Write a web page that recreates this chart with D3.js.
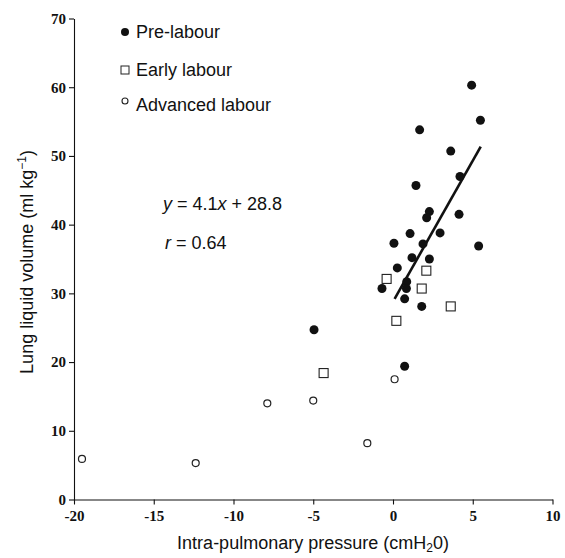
<!DOCTYPE html>
<html>
<head>
<meta charset="utf-8">
<script src="https://cdn.jsdelivr.net/npm/d3@7"></script>
<style>
  body { margin: 0; background: #fff; }
  .tick text { font-family: "Liberation Serif", "Times New Roman", serif; font-weight: bold; font-size: 15px; fill: #111; }
  .lbl { font-family: "Liberation Sans", Arial, sans-serif; fill: #111; }
</style>
</head>
<body>
<div id="chart"></div>
<script>
// Pre-labour (filled circles)
var preX = [4.93, 5.48, 1.67, 3.62, 4.2, 1.44, 2.28, 2.11, 4.14, 1.07, 2.95, 0.06,
  1.88, 5.37, 1.19, 2.28, 0.27, 0.86, -0.69, 0.84, 0.73, 1.8, 0.73, -4.95];
var preY = [60.3, 55.2, 53.8, 50.7, 47.0, 45.7, 41.9, 41.0, 41.5, 38.7, 38.8, 37.3,
  37.2, 36.9, 35.2, 35.0, 33.7, 31.7, 30.7, 30.7, 29.2, 28.1, 19.4, 24.7];
// Early labour (open squares)
var earlyX = [-0.4, 2.09, 1.8, 3.62, 0.21, -4.35];
var earlyY = [32.1, 33.3, 30.7, 28.1, 26.0, 18.4];
// Advanced labour (open circles)
var advX = [-19.5, -12.37, -7.88, -5.0, 0.1, -1.61];
var advY = [5.9, 5.3, 14.0, 14.4, 17.5, 8.2];

var xTicks = [-20, -15, -10, -5, 0, 5, 10];
var yTicks = [0, 10, 20, 30, 40, 50, 60, 70];
var slope = 4.1, intercept = 28.8;
var fitRange = [0.1, 5.5];

var svgWidth = 565, svgHeight = 558;

var svg = d3.select("#chart").append("svg")
  .attr("width", svgWidth)
  .attr("height", svgHeight);

var x = d3.scaleLinear().domain([-20, 10]).range([74, 552.5]);
var y = d3.scaleLinear().domain([0, 70]).range([499.5, 18.5]);

// axes (plain hyphen for negatives, like the original)
var xAxis = svg.append("g")
  .attr("transform", `translate(0, ${y(0)})`)
  .call(d3.axisBottom(x).tickValues(xTicks).tickFormat(d => String(d))
    .tickSize(5).tickPadding(6).tickSizeOuter(0));
var yAxis = svg.append("g")
  .attr("transform", `translate(${x(-20)}, 0)`)
  .call(d3.axisLeft(y).tickValues(yTicks).tickFormat(d => String(d))
    .tickSize(5).tickPadding(3).tickSizeOuter(0));
svg.selectAll(".domain, .tick line").attr("stroke", "#111").attr("stroke-width", 1.1);

// regression line
svg.append("line")
  .attr("x1", x(fitRange[0])).attr("y1", y(slope * fitRange[0] + intercept))
  .attr("x2", x(fitRange[1])).attr("y2", y(slope * fitRange[1] + intercept))
  .attr("stroke", "#111").attr("stroke-width", 2.6);

// points
var pre = preX.map((d, i) => ({x: d, y: preY[i]}));
var early = earlyX.map((d, i) => ({x: d, y: earlyY[i]}));
var adv = advX.map((d, i) => ({x: d, y: advY[i]}));

svg.selectAll(".pre").data(pre).enter().append("circle")
  .attr("cx", d => x(d.x)).attr("cy", d => y(d.y))
  .attr("r", 4.5).attr("fill", "#111");

svg.selectAll(".early").data(early).enter().append("rect")
  .attr("x", d => x(d.x) - 4.5).attr("y", d => y(d.y) - 4.5)
  .attr("width", 9).attr("height", 9)
  .attr("fill", "#fff").attr("stroke", "#222").attr("stroke-width", 1.1);

svg.selectAll(".adv").data(adv).enter().append("circle")
  .attr("cx", d => x(d.x)).attr("cy", d => y(d.y))
  .attr("r", 3.5).attr("fill", "#fff").attr("stroke", "#222").attr("stroke-width", 1.2);

// legend
var legend = svg.append("g");
legend.append("circle").attr("cx", 125).attr("cy", 32).attr("r", 4).attr("fill", "#111");
legend.append("rect").attr("x", 121).attr("y", 66).attr("width", 8).attr("height", 8)
  .attr("fill", "#fff").attr("stroke", "#222").attr("stroke-width", 1);
legend.append("circle").attr("cx", 125).attr("cy", 101).attr("r", 3).attr("fill", "#fff")
  .attr("stroke", "#222").attr("stroke-width", 1.1);
var legendNames = ["Pre-labour", "Early labour", "Advanced labour"];
legend.selectAll("text").data(legendNames).enter().append("text")
  .attr("class", "lbl")
  .attr("x", 136).attr("y", (d, i) => [38, 76, 111][i])
  .attr("font-size", 18)
  .text(d => d);

// equation
var eq = svg.append("text").attr("class", "lbl").attr("x", 163).attr("y", 210).attr("font-size", 18);
eq.append("tspan").attr("font-style", "italic").text("y");
eq.append("tspan").text(" = 4.1");
eq.append("tspan").attr("font-style", "italic").text("x");
eq.append("tspan").text(" + 28.8");
var rr = svg.append("text").attr("class", "lbl").attr("x", 165).attr("y", 249).attr("font-size", 18);
rr.append("tspan").attr("font-style", "italic").text("r");
rr.append("tspan").text(" = 0.64");

// axis titles
var xt = svg.append("text").attr("class", "lbl")
  .attr("x", 313).attr("y", 549).attr("text-anchor", "middle").attr("font-size", 18);
xt.append("tspan").text("Intra-pulmonary pressure (cmH");
xt.append("tspan").attr("font-size", 12).attr("dy", 3).text("2");
xt.append("tspan").attr("dy", -3).text("0)");

var yt = svg.append("text").attr("class", "lbl")
  .attr("transform", "translate(33, 262) rotate(-90)")
  .attr("text-anchor", "middle").attr("font-size", 18);
yt.append("tspan").text("Lung liquid volume (ml kg");
yt.append("tspan").attr("font-size", 12).attr("dy", -7).text("\u22121");
yt.append("tspan").attr("dy", 7).text(")");
</script>
</body>
</html>
